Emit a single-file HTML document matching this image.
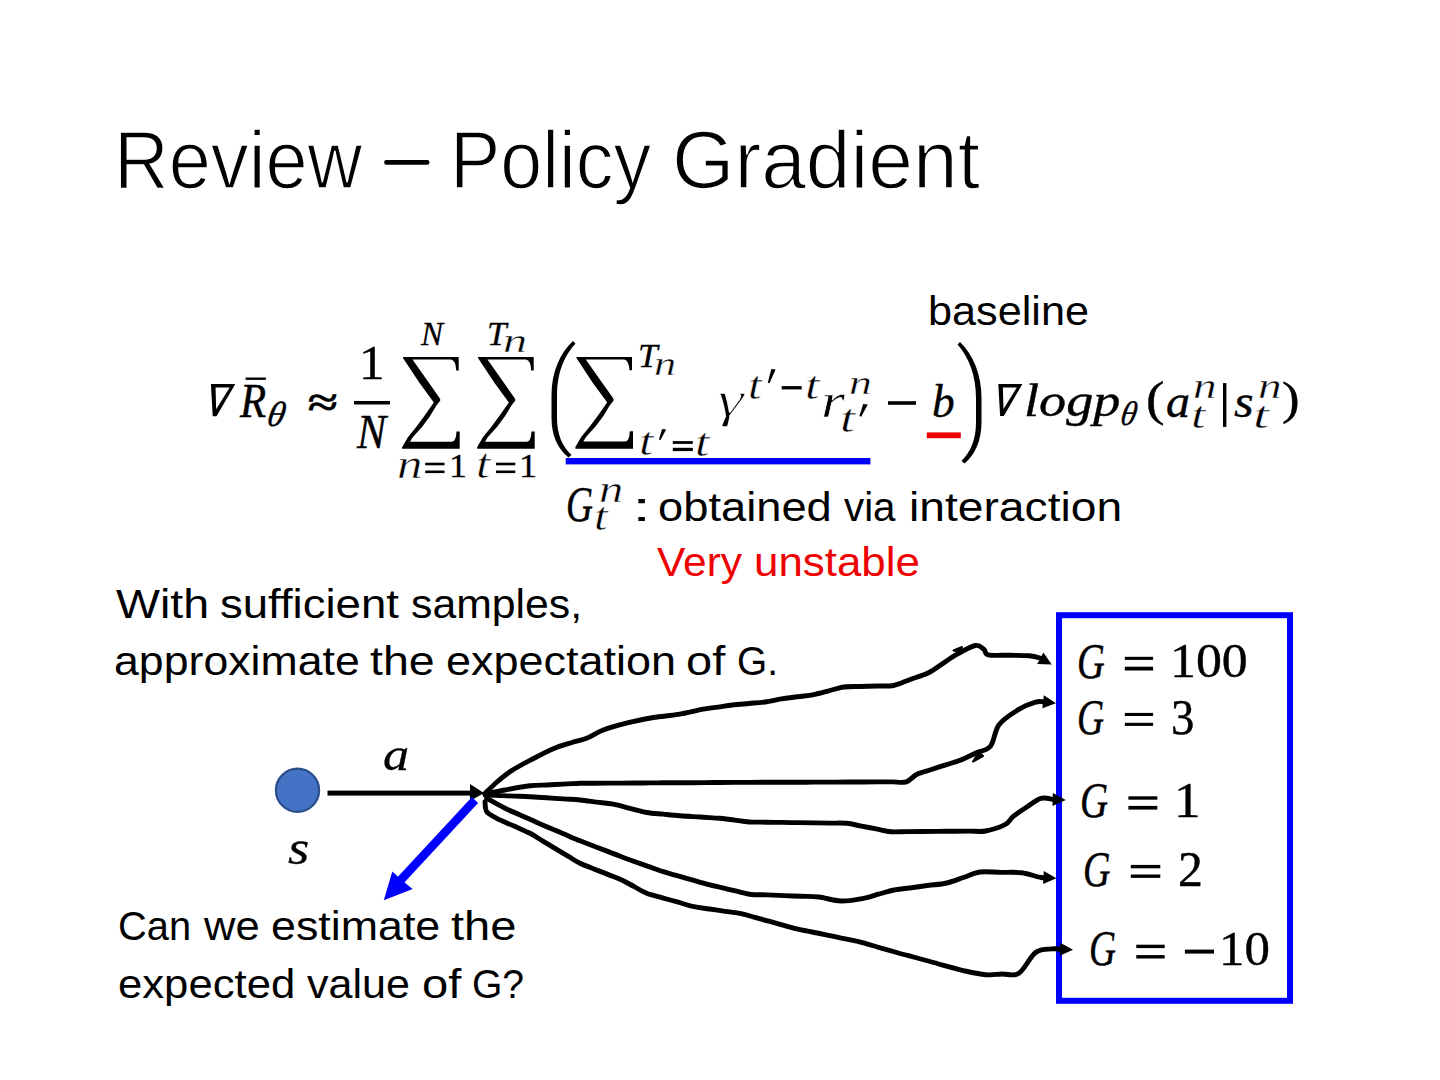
<!DOCTYPE html>
<html><head><meta charset="utf-8"><style>
html,body{margin:0;padding:0;background:#fff;width:1440px;height:1080px;overflow:hidden}
.e{position:absolute;white-space:nowrap;line-height:1;transform-origin:0 0}
svg{position:absolute;left:0;top:0}
</style></head><body>
<svg width="1440" height="1080" viewBox="0 0 1440 1080">
<rect x="1059" y="615.2" width="231" height="385.6" fill="none" stroke="#0000FF" stroke-width="6"/>
<path d="M485.0,793.5 C487.0,791.6 492.6,785.8 497.0,782.0 C501.4,778.2 506.1,774.2 511.7,770.6 C517.3,767.0 523.5,763.8 530.4,760.2 C537.3,756.6 546.4,751.7 553.3,748.8 C560.2,745.8 566.4,744.2 572.0,742.5 C577.6,740.8 581.5,740.4 586.7,738.3 C591.9,736.2 596.4,732.6 603.3,730.0 C610.2,727.4 620.0,724.8 628.3,722.7 C636.6,720.6 645.0,718.9 653.3,717.5 C661.6,716.1 670.0,715.8 678.3,714.4 C686.6,713.0 696.7,710.4 703.3,709.2 C709.9,708.0 713.0,707.8 717.9,707.1 C722.8,706.4 727.4,705.6 732.5,705.0 C737.6,704.4 743.3,704.0 748.8,703.5 C754.2,703.0 759.5,702.8 765.0,702.0 C770.5,701.2 776.1,699.8 781.5,698.9 C786.9,698.0 792.3,697.5 797.6,696.8 C803.0,696.0 808.6,695.6 813.8,694.6 C819.0,693.6 823.9,692.1 828.9,690.8 C833.9,689.5 838.7,687.7 844.0,687.0 C849.3,686.3 855.0,686.7 860.5,686.5 C866.0,686.3 871.5,686.2 877.0,686.0 C882.5,685.8 887.9,686.6 893.5,685.5 C899.1,684.4 905.0,681.3 910.8,679.2 C916.5,677.2 922.6,675.6 928.0,673.0 C933.4,670.4 938.0,666.6 943.0,663.4 C948.0,660.1 952.6,656.7 958.0,653.7 C963.4,650.7 971.0,646.2 975.3,645.5 C979.6,644.8 981.9,647.9 984.0,649.4 C986.1,650.9 984.1,653.8 988.2,654.8 C992.3,655.8 1001.8,655.1 1008.6,655.3 C1015.4,655.5 1023.8,655.3 1029.0,655.8 C1034.2,656.2 1037.4,657.2 1040.0,658.0 C1042.6,658.8 1043.9,660.1 1044.7,660.6" fill="none" stroke="#000" stroke-width="4.9" stroke-linecap="round" stroke-linejoin="round"/>
<polygon points="1051.7,664.4 1037.2,663.9 1043.4,652.5" fill="#000"/>
<path d="M485.0,794.2 C488.3,793.5 497.5,791.4 505.0,790.0 C512.5,788.6 523.1,786.6 530.0,785.8 C536.9,785.0 541.1,785.2 546.7,785.0 C552.2,784.7 557.8,784.4 563.3,784.1 C568.9,783.9 574.9,783.5 580.0,783.3 C585.1,783.1 589.3,783.2 594.0,783.2 C598.7,783.2 603.3,783.2 608.0,783.1 C612.7,783.1 617.3,783.1 622.0,783.1 C626.7,783.0 631.3,783.0 636.0,783.0 C640.7,783.0 645.3,782.9 650.0,782.9 C654.7,782.9 659.3,782.8 664.0,782.8 C668.7,782.8 673.3,782.8 678.0,782.7 C682.7,782.7 687.3,782.7 692.0,782.7 C696.7,782.6 701.3,782.6 706.0,782.6 C710.7,782.6 715.3,782.5 720.0,782.5 C724.7,782.5 729.6,782.5 734.3,782.4 C739.1,782.4 743.9,782.4 748.7,782.4 C753.5,782.4 758.2,782.4 763.0,782.3 C767.8,782.3 772.6,782.3 777.4,782.3 C782.1,782.3 786.9,782.2 791.7,782.2 C796.5,782.2 801.3,782.2 806.0,782.2 C810.8,782.2 815.6,782.1 820.4,782.1 C825.1,782.1 829.9,782.1 834.7,782.1 C839.5,782.1 844.3,782.0 849.0,782.0 C853.8,782.0 858.6,782.0 863.4,782.0 C868.2,781.9 872.9,781.9 877.7,781.9 C882.5,781.9 887.3,781.9 892.1,781.9 C896.8,781.8 902.2,783.1 906.4,781.8 C910.6,780.5 912.8,776.2 917.0,774.2 C921.2,772.2 926.6,771.1 931.4,769.5 C936.2,768.0 941.0,766.4 945.8,764.9 C950.6,763.3 955.3,762.1 960.2,760.2 C965.1,758.3 970.3,755.6 975.3,753.2 C980.3,750.9 986.4,751.0 990.4,746.2 C994.4,741.5 994.4,730.8 999.0,724.7 C1003.6,718.6 1012.2,713.5 1018.3,709.7 C1024.4,705.9 1030.9,703.4 1035.6,702.1 C1040.3,700.8 1044.2,702.1 1046.3,702.1 C1048.4,702.1 1047.8,702.3 1048.1,702.3" fill="none" stroke="#000" stroke-width="4.9" stroke-linecap="round" stroke-linejoin="round"/>
<polygon points="1056.0,703.2 1042.4,708.2 1043.8,695.3" fill="#000"/>
<path d="M485.0,795.0 C487.5,795.1 495.0,795.4 500.0,795.6 C505.0,795.8 510.0,795.9 515.0,796.1 C520.0,796.3 524.7,796.4 530.0,796.7 C535.3,797.0 541.1,797.4 546.7,797.8 C552.2,798.2 557.8,798.5 563.3,798.9 C568.9,799.3 574.4,799.5 580.0,800.0 C585.6,800.5 591.1,801.4 596.6,802.1 C602.2,802.8 607.7,803.2 613.3,804.2 C618.9,805.2 624.4,807.0 630.0,808.4 C635.6,809.7 641.1,811.5 646.7,812.5 C652.3,813.5 657.8,813.6 663.4,814.1 C668.9,814.7 673.9,815.3 680.0,815.8 C686.1,816.3 693.3,816.6 700.0,817.0 C706.7,817.5 714.2,817.8 720.0,818.3 C725.8,818.8 729.8,819.5 734.7,820.1 C739.6,820.8 744.2,821.7 749.4,822.0 C754.6,822.3 760.2,822.1 765.6,822.2 C771.0,822.3 776.4,822.4 781.8,822.4 C787.2,822.5 792.6,822.6 798.0,822.6 C803.5,822.7 808.9,822.8 814.3,822.9 C819.7,822.9 825.1,823.0 830.5,823.1 C835.9,823.2 841.5,822.8 846.7,823.3 C851.9,823.8 856.5,825.2 861.5,826.1 C866.4,827.0 871.3,828.0 876.2,828.9 C881.2,829.8 885.9,831.3 891.0,831.7 C896.1,832.1 901.5,831.6 906.8,831.6 C912.0,831.5 917.3,831.5 922.5,831.5 C927.8,831.4 933.0,831.4 938.3,831.4 C943.6,831.3 948.8,831.3 954.1,831.2 C959.3,831.2 964.6,831.2 969.8,831.1 C975.1,831.1 979.7,832.1 985.6,831.0 C991.5,829.9 1000.4,827.1 1005.0,824.7 C1009.6,822.3 1009.6,819.4 1013.3,816.4 C1017.0,813.4 1022.6,809.7 1027.2,806.7 C1031.8,803.7 1036.4,799.5 1041.0,798.3 C1045.6,797.1 1052.2,799.5 1055.0,799.7 C1057.8,799.9 1057.3,799.8 1057.7,799.8" fill="none" stroke="#000" stroke-width="4.9" stroke-linecap="round" stroke-linejoin="round"/>
<polygon points="1065.7,800.0 1052.5,806.1 1052.9,793.1" fill="#000"/>
<path d="M486.7,798.3 C489.8,800.0 499.6,805.6 505.0,808.3 C510.4,811.0 514.3,812.4 518.9,814.4 C523.5,816.5 528.2,818.5 532.8,820.6 C537.4,822.6 541.6,824.5 546.7,826.7 C551.8,828.9 557.8,831.4 563.4,833.8 C568.9,836.1 574.4,838.6 580.0,840.8 C585.6,843.0 591.1,845.1 596.7,847.2 C602.2,849.3 607.8,851.5 613.3,853.6 C618.9,855.7 624.4,858.0 630.0,860.0 C635.6,862.0 641.1,863.9 646.6,865.9 C652.2,867.8 658.1,870.0 663.3,871.7 C668.5,873.4 673.2,874.5 678.1,875.9 C683.1,877.3 688.0,878.8 693.0,880.2 C697.9,881.6 703.0,883.1 707.8,884.4 C712.6,885.6 717.0,886.6 721.7,887.7 C726.3,888.8 730.9,889.8 735.5,890.9 C740.2,892.0 744.2,893.5 749.4,894.2 C754.6,894.9 761.0,894.7 766.8,894.9 C772.6,895.1 778.4,895.4 784.1,895.6 C789.9,895.8 795.7,896.1 801.5,896.3 C807.3,896.5 812.3,896.2 818.9,897.0 C825.5,897.8 833.6,900.8 841.0,901.0 C848.4,901.2 857.0,899.4 863.3,898.3 C869.6,897.2 873.5,895.5 878.6,894.1 C883.7,892.8 888.4,891.1 893.9,890.0 C899.4,888.9 905.6,888.4 911.5,887.7 C917.4,886.9 923.2,886.1 929.1,885.3 C935.0,884.6 941.0,884.3 946.7,883.0 C952.4,881.7 957.8,879.3 963.4,877.5 C968.9,875.7 973.8,872.9 980.0,872.0 C986.2,871.1 993.9,872.3 1000.9,872.4 C1007.8,872.5 1015.0,871.9 1021.7,872.8 C1028.4,873.6 1036.5,876.7 1041.0,877.5 C1045.5,878.3 1047.2,877.8 1048.4,877.9" fill="none" stroke="#000" stroke-width="4.9" stroke-linecap="round" stroke-linejoin="round"/>
<polygon points="1056.4,878.3 1043.1,884.1 1043.8,871.1" fill="#000"/>
<path d="M485.0,801.7 C485.3,803.4 484.8,808.9 486.7,811.7 C488.6,814.5 492.3,815.9 496.7,818.3 C501.1,820.6 507.8,823.3 513.4,825.8 C518.9,828.3 525.1,830.8 530.0,833.3 C534.9,835.8 538.3,838.3 542.5,840.8 C546.7,843.3 550.8,845.8 555.0,848.3 C559.2,850.8 563.3,853.3 567.5,855.8 C571.7,858.3 575.6,861.1 580.0,863.3 C584.4,865.5 589.3,867.0 593.9,868.9 C598.5,870.7 603.2,872.6 607.8,874.4 C612.4,876.3 617.3,878.0 621.7,880.0 C626.1,882.0 630.0,884.4 634.2,886.6 C638.4,888.9 642.0,891.4 646.7,893.3 C651.4,895.2 657.2,896.3 662.4,897.8 C667.7,899.3 672.9,900.7 678.2,902.2 C683.4,903.7 688.7,905.6 693.9,906.7 C699.1,907.8 704.4,908.2 709.6,909.0 C714.8,909.8 720.1,910.5 725.3,911.3 C730.5,912.1 736.1,912.6 741.0,913.6 C745.9,914.6 750.3,916.1 754.9,917.4 C759.6,918.7 764.2,920.0 768.9,921.2 C773.5,922.5 778.1,923.8 782.8,925.1 C787.4,926.4 791.8,927.7 796.7,928.9 C801.6,930.1 806.9,931.0 812.0,932.0 C817.1,933.1 822.2,934.1 827.2,935.1 C832.3,936.2 837.4,937.2 842.5,938.3 C847.6,939.3 852.0,940.0 857.8,941.4 C863.6,942.8 870.8,945.1 877.2,947.0 C883.7,948.8 890.7,950.8 896.7,952.5 C902.7,954.2 907.8,955.5 913.4,957.0 C918.9,958.5 924.5,960.0 930.0,961.5 C935.5,963.1 941.1,964.6 946.6,966.1 C952.2,967.6 956.8,969.2 963.3,970.6 C969.8,972.0 979.1,974.1 985.6,974.7 C992.1,975.3 996.7,974.2 1002.2,974.0 C1007.8,973.8 1013.3,976.9 1018.9,973.3 C1024.5,969.7 1030.0,956.6 1035.6,952.5 C1041.1,948.4 1047.3,949.4 1052.2,948.9 C1057.1,948.4 1062.9,949.3 1065.0,949.4" fill="none" stroke="#000" stroke-width="4.9" stroke-linecap="round" stroke-linejoin="round"/>
<polygon points="1073.0,949.7 1059.8,955.7 1060.3,942.7" fill="#000"/>
<path d="M953.5,650.5 L962,647 L960,651.5 Z" fill="#000" stroke="#000" stroke-width="2" stroke-linejoin="round"/>
<path d="M973,761.5 L979,752 L983,756 Z" fill="#000" stroke="#000" stroke-width="2" stroke-linejoin="round"/>
<rect x="384.2" y="160" width="45.2" height="4.8" rx="2" fill="#000"/>
<circle cx="297.5" cy="790.2" r="21.6" fill="#4472C4" stroke="#2B4E8C" stroke-width="2.2"/>
<rect x="327.50" y="790.60" width="146.50" height="5.00" fill="#000"/>
<polygon points="470,784 484,793 470,801" fill="#000"/>
<line x1="475" y1="800" x2="398" y2="883" stroke="#0000FF" stroke-width="8.5"/>
<polygon points="383.8,900.3 392.3,871.5 399.5,878 407.3,884.7 412.7,888.9" fill="#0000FF"/>
<rect x="565.70" y="458.00" width="304.70" height="6.40" fill="#0000FF"/>
<rect x="926.80" y="432.40" width="34.00" height="5.80" fill="#EE0000"/>
<rect x="354.00" y="401.00" width="36.00" height="3.50" fill="#000"/>
<rect x="245.60" y="377.50" width="20.30" height="2.40" fill="#000"/>
<rect x="888.00" y="401.20" width="28.00" height="3.60" fill="#000"/>
<rect x="781.70" y="386.10" width="20.00" height="3.30" fill="#000"/>
<rect x="425.20" y="462.70" width="19.30" height="2.60" fill="#000"/>
<rect x="425.20" y="470.50" width="19.30" height="2.60" fill="#000"/>
<rect x="496.00" y="462.70" width="19.30" height="2.60" fill="#000"/>
<rect x="496.00" y="470.50" width="19.30" height="2.60" fill="#000"/>
<rect x="672.80" y="441.10" width="20.00" height="2.80" fill="#000"/>
<rect x="672.80" y="447.80" width="20.00" height="3.30" fill="#000"/>
<rect x="1124.80" y="656.80" width="28.30" height="3.10" fill="#000"/>
<rect x="1124.80" y="666.70" width="28.30" height="3.80" fill="#000"/>
<rect x="1124.80" y="712.90" width="28.30" height="3.10" fill="#000"/>
<rect x="1124.80" y="722.80" width="28.30" height="3.10" fill="#000"/>
<rect x="1128.40" y="796.30" width="28.90" height="3.40" fill="#000"/>
<rect x="1128.40" y="805.90" width="28.90" height="3.70" fill="#000"/>
<rect x="1130.80" y="864.90" width="29.50" height="3.40" fill="#000"/>
<rect x="1130.80" y="874.50" width="29.50" height="3.40" fill="#000"/>
<rect x="1136.25" y="944.70" width="28.45" height="3.40" fill="#000"/>
<rect x="1136.25" y="955.10" width="28.45" height="3.40" fill="#000"/>
<rect x="1184.90" y="949.60" width="29.10" height="4.00" fill="#000"/>
<rect x="1223.00" y="383.10" width="3.40" height="43.80" fill="#000"/>
<polygon points="662.1,428.9 666.1,429.4 660.5,440.0 658.9,439.4" fill="#000"/>
<polygon points="771.3,368.9 775.6,369.4 769.5,383.3 767.8,382.7" fill="#000"/>
<polygon points="863.2,403.9 867.8,404.4 861.2,416.7 859.4,416.1" fill="#000"/>
<path d="M210.90,384.10 L235.30,384.10 L216.51,416.25 L212.73,416.25 Z M215.54,387.54 L216.15,409.18 L229.69,387.54 Z" fill="#000" fill-rule="evenodd"/>
<path d="M998.30,384.00 L1022.40,384.00 L1003.84,416.00 L1000.11,416.00 Z M1002.88,387.42 L1003.48,408.96 L1016.86,387.42 Z" fill="#000" fill-rule="evenodd"/>
<path d="M403.00,357.10 L458.70,357.10 L458.70,370.40 L456.20,370.40 Q455.60,360.20 451.00,359.60 L412.50,359.60 L430.10,384.60 L439.20,397.40 Q441.20,399.80 439.60,401.60 L436.40,405.55 L430.10,416.10 L422.20,426.70 L412.70,437.20 L410.00,441.70 L452.00,441.70 Q456.00,441.20 456.50,431.40 L459.70,431.40 L459.70,448.80 L402.10,448.80 L402.10,447.20 L407.90,437.20 L416.40,426.70 L424.30,416.10 L431.70,405.55 L433.80,402.40 L419.40,382.80 L403.00,357.90 Z" fill="#000"/>
<path d="M478.00,357.10 L533.70,357.10 L533.70,370.40 L531.20,370.40 Q530.60,360.20 526.00,359.60 L487.50,359.60 L505.10,384.60 L514.20,397.40 Q516.20,399.80 514.60,401.60 L511.40,405.55 L505.10,416.10 L497.20,426.70 L487.70,437.20 L485.00,441.70 L527.00,441.70 Q531.00,441.20 531.50,431.40 L534.70,431.40 L534.70,448.80 L477.10,448.80 L477.10,447.20 L482.90,437.20 L491.40,426.70 L499.30,416.10 L506.70,405.55 L508.80,402.40 L494.40,382.80 L478.00,357.90 Z" fill="#000"/>
<path d="M576.30,357.00 L632.00,357.00 L632.00,370.30 L629.50,370.30 Q628.90,360.10 624.30,359.50 L585.80,359.50 L603.40,384.50 L612.50,397.30 Q614.50,399.70 612.90,401.50 L609.70,405.45 L603.40,416.00 L595.50,426.60 L586.00,437.10 L583.30,441.60 L625.30,441.60 Q629.30,441.10 629.80,431.30 L633.00,431.30 L633.00,448.70 L575.40,448.70 L575.40,447.10 L581.20,437.10 L589.70,426.60 L597.60,416.00 L605.00,405.45 L607.10,402.30 L592.70,382.70 L576.30,357.80 Z" fill="#000"/>
<path d="M573.00,341.00 C560.00,353.00 551.50,372.00 551.50,395.00 L551.50,418.00 C551.50,436.00 558.00,449.00 568.50,457.50 L571.50,455.00 C562.00,446.00 557.00,434.00 557.00,418.00 L557.00,395.00 C557.00,373.00 564.00,356.00 575.50,343.50 Z" fill="#000"/>
<path d="M960.00,342.00 C973.00,354.52 981.50,374.33 981.50,398.32 L981.50,422.30 C981.50,441.08 975.00,454.64 964.50,463.50 L961.50,460.89 C971.00,451.51 976.00,438.99 976.00,422.30 L976.00,398.32 C976.00,375.37 969.00,357.64 957.50,344.61 Z" fill="#000"/>
</svg>
<div class="e" style="left:114.17px;top:119.55px;transform:scale(0.9465,1.0098);font-family:'Liberation Sans', sans-serif;font-size:80px;font-style:normal;color:#000;-webkit-text-stroke:1.5px #fff">Review</div>
<div class="e" style="left:449.90px;top:119.55px;transform:scale(0.9424,1.0098);font-family:'Liberation Sans', sans-serif;font-size:80px;font-style:normal;color:#000;-webkit-text-stroke:1.5px #fff">Policy</div>
<div class="e" style="left:671.68px;top:119.55px;transform:scale(1.0037,1.0098);font-family:'Liberation Sans', sans-serif;font-size:80px;font-style:normal;color:#000;-webkit-text-stroke:1.5px #fff">Gradient</div>
<div class="e" style="left:928.30px;top:289.87px;transform:scale(0.9827,0.9333);font-family:'Liberation Sans', sans-serif;font-size:44px;font-style:normal;color:#000">baseline</div>
<div class="e" style="left:631.80px;top:485.77px;transform:scale(1.5750,0.9333);font-family:'Liberation Sans', sans-serif;font-size:44px;font-style:normal;color:#000">:</div>
<div class="e" style="left:657.74px;top:485.77px;transform:scale(1.0293,0.9333);font-family:'Liberation Sans', sans-serif;font-size:44px;font-style:normal;color:#000">obtained</div>
<div class="e" style="left:844.00px;top:485.77px;transform:scale(0.9161,0.9333);font-family:'Liberation Sans', sans-serif;font-size:44px;font-style:normal;color:#000">via</div>
<div class="e" style="left:909.25px;top:485.77px;transform:scale(1.0497,0.9333);font-family:'Liberation Sans', sans-serif;font-size:44px;font-style:normal;color:#000">interaction</div>
<div class="e" style="left:657.00px;top:540.67px;transform:scale(0.9659,0.9333);font-family:'Liberation Sans', sans-serif;font-size:44px;font-style:normal;color:#EE0000">Very</div>
<div class="e" style="left:754.31px;top:540.67px;transform:scale(0.9966,0.9333);font-family:'Liberation Sans', sans-serif;font-size:44px;font-style:normal;color:#EE0000">unstable</div>
<div class="e" style="left:116.30px;top:582.97px;transform:scale(1.0576,0.9333);font-family:'Liberation Sans', sans-serif;font-size:44px;font-style:normal;color:#000">With</div>
<div class="e" style="left:220.46px;top:582.97px;transform:scale(1.0351,0.9333);font-family:'Liberation Sans', sans-serif;font-size:44px;font-style:normal;color:#000">sufficient</div>
<div class="e" style="left:411.03px;top:582.97px;transform:scale(0.9719,0.9333);font-family:'Liberation Sans', sans-serif;font-size:44px;font-style:normal;color:#000">samples,</div>
<div class="e" style="left:114.27px;top:640.27px;transform:scale(1.0151,0.9333);font-family:'Liberation Sans', sans-serif;font-size:44px;font-style:normal;color:#000">approximate</div>
<div class="e" style="left:370.34px;top:640.27px;transform:scale(1.0586,0.9333);font-family:'Liberation Sans', sans-serif;font-size:44px;font-style:normal;color:#000">the</div>
<div class="e" style="left:445.96px;top:640.27px;transform:scale(1.0223,0.9333);font-family:'Liberation Sans', sans-serif;font-size:44px;font-style:normal;color:#000">expectation</div>
<div class="e" style="left:686.26px;top:640.27px;transform:scale(1.0686,0.9333);font-family:'Liberation Sans', sans-serif;font-size:44px;font-style:normal;color:#000">of</div>
<div class="e" style="left:737.03px;top:640.27px;transform:scale(0.8829,0.9333);font-family:'Liberation Sans', sans-serif;font-size:44px;font-style:normal;color:#000">G.</div>
<div class="e" style="left:118.09px;top:905.47px;transform:scale(0.9053,0.9333);font-family:'Liberation Sans', sans-serif;font-size:44px;font-style:normal;color:#000">Can</div>
<div class="e" style="left:204.00px;top:905.47px;transform:scale(0.9889,0.9333);font-family:'Liberation Sans', sans-serif;font-size:44px;font-style:normal;color:#000">we</div>
<div class="e" style="left:270.66px;top:905.47px;transform:scale(1.0179,0.9333);font-family:'Liberation Sans', sans-serif;font-size:44px;font-style:normal;color:#000">estimate</div>
<div class="e" style="left:450.93px;top:905.47px;transform:scale(1.0690,0.9333);font-family:'Liberation Sans', sans-serif;font-size:44px;font-style:normal;color:#000">the</div>
<div class="e" style="left:117.91px;top:962.87px;transform:scale(0.9925,0.9333);font-family:'Liberation Sans', sans-serif;font-size:44px;font-style:normal;color:#000">expected</div>
<div class="e" style="left:307.00px;top:962.87px;transform:scale(0.9786,0.9333);font-family:'Liberation Sans', sans-serif;font-size:44px;font-style:normal;color:#000">value</div>
<div class="e" style="left:421.66px;top:962.87px;transform:scale(1.0714,0.9333);font-family:'Liberation Sans', sans-serif;font-size:44px;font-style:normal;color:#000">of</div>
<div class="e" style="left:472.43px;top:962.87px;transform:scale(0.8873,0.9333);font-family:'Liberation Sans', sans-serif;font-size:44px;font-style:normal;color:#000">G?</div>
<div class="e" style="left:239.60px;top:375.70px;transform:scale(1.0708,1.2288);font-family:'Liberation Serif', serif;font-size:40px;font-style:italic;color:#000;-webkit-text-stroke:0.35px currentColor">R</div>
<div class="e" style="left:271.46px;top:396.62px;transform:scale(0.9025,0.8759) skewX(-10deg);font-family:'Liberation Serif', serif;font-size:40px;font-style:italic;color:#000;-webkit-text-stroke:0.35px currentColor">θ</div>
<div class="e" style="left:308.34px;top:382.18px;transform:scale(1.3550,1.0437);font-family:'Liberation Serif', serif;font-size:40px;font-style:normal;color:#000;-webkit-text-stroke:1.0px currentColor">≈</div>
<div class="e" style="left:359.46px;top:339.02px;transform:scale(1.2800,1.2115);font-family:'Liberation Serif', serif;font-size:40px;font-style:normal;color:#000;-webkit-text-stroke:0.35px currentColor">1</div>
<div class="e" style="left:356.70px;top:408.19px;transform:scale(1.0897,1.2154);font-family:'Liberation Serif', serif;font-size:40px;font-style:italic;color:#000;-webkit-text-stroke:0.35px currentColor">N</div>
<div class="e" style="left:420.50px;top:316.77px;transform:scale(0.8276,0.8615);font-family:'Liberation Serif', serif;font-size:40px;font-style:italic;color:#000;-webkit-text-stroke:0.35px currentColor">N</div>
<div class="e" style="left:397.16px;top:445.82px;transform:scale(1.2688,0.9842);font-family:'Liberation Serif', serif;font-size:40px;font-style:italic;color:#000;-webkit-text-stroke:0.5px #fff">n</div>
<div class="e" style="left:448.54px;top:449.37px;transform:scale(0.9033,0.8615);font-family:'Liberation Serif', serif;font-size:40px;font-style:normal;color:#000;-webkit-text-stroke:0.35px currentColor">1</div>
<div class="e" style="left:486.68px;top:316.77px;transform:scale(0.8727,0.8615);font-family:'Liberation Serif', serif;font-size:40px;font-style:italic;color:#000;-webkit-text-stroke:0.35px currentColor">T</div>
<div class="e" style="left:502.99px;top:325.41px;transform:scale(1.2063,0.8211);font-family:'Liberation Serif', serif;font-size:40px;font-style:italic;color:#000;-webkit-text-stroke:0.5px #fff">n</div>
<div class="e" style="left:476.37px;top:443.95px;transform:scale(1.2667,1.0409);font-family:'Liberation Serif', serif;font-size:40px;font-style:italic;color:#000;-webkit-text-stroke:0.5px #fff">t</div>
<div class="e" style="left:519.28px;top:449.37px;transform:scale(0.9067,0.8615);font-family:'Liberation Serif', serif;font-size:40px;font-style:normal;color:#000;-webkit-text-stroke:0.35px currentColor">1</div>
<div class="e" style="left:637.95px;top:339.02px;transform:scale(0.8818,0.8538);font-family:'Liberation Serif', serif;font-size:40px;font-style:italic;color:#000;-webkit-text-stroke:0.35px currentColor">T</div>
<div class="e" style="left:654.49px;top:347.46px;transform:scale(1.1062,0.8526);font-family:'Liberation Serif', serif;font-size:40px;font-style:italic;color:#000;-webkit-text-stroke:0.5px #fff">n</div>
<div class="e" style="left:639.12px;top:422.15px;transform:scale(1.2889,1.0136);font-family:'Liberation Serif', serif;font-size:40px;font-style:italic;color:#000;-webkit-text-stroke:0.5px #fff">t</div>
<div class="e" style="left:695.22px;top:423.05px;transform:scale(1.2889,0.9864);font-family:'Liberation Serif', serif;font-size:40px;font-style:italic;color:#000;-webkit-text-stroke:0.5px #fff">t</div>
<div class="e" style="left:717.20px;top:374.03px;transform:scale(1.7000,1.2846);font-family:'Liberation Serif', serif;font-size:40px;font-style:italic;color:#000;-webkit-text-stroke:1.0px #fff">γ</div>
<div class="e" style="left:748.13px;top:367.00px;transform:scale(1.2333,0.9818);font-family:'Liberation Serif', serif;font-size:40px;font-style:italic;color:#000;-webkit-text-stroke:0.5px #fff">t</div>
<div class="e" style="left:804.60px;top:367.00px;transform:scale(1.3000,0.9818);font-family:'Liberation Serif', serif;font-size:40px;font-style:italic;color:#000;-webkit-text-stroke:0.5px #fff">t</div>
<div class="e" style="left:821.32px;top:376.50px;transform:scale(1.5385,1.2000);font-family:'Liberation Serif', serif;font-size:40px;font-style:italic;color:#000;-webkit-text-stroke:0.5px #fff">r</div>
<div class="e" style="left:848.81px;top:366.44px;transform:scale(1.1437,0.8474);font-family:'Liberation Serif', serif;font-size:40px;font-style:italic;color:#000;-webkit-text-stroke:0.5px #fff">n</div>
<div class="e" style="left:840.09px;top:398.90px;transform:scale(1.3556,1.0091);font-family:'Liberation Serif', serif;font-size:40px;font-style:italic;color:#000;-webkit-text-stroke:0.5px #fff">t</div>
<div class="e" style="left:932.47px;top:379.19px;transform:scale(1.1333,1.1397);font-family:'Liberation Serif', serif;font-size:40px;font-style:italic;color:#000;-webkit-text-stroke:0.35px currentColor">b</div>
<div class="e" style="left:1023.59px;top:377.25px;transform:scale(1.3544,1.1703);font-family:'Liberation Serif', serif;font-size:40px;font-style:italic;color:#000;-webkit-text-stroke:0.35px currentColor">logp</div>
<div class="e" style="left:1124.44px;top:397.32px;transform:scale(0.8150,0.8552) skewX(-10deg);font-family:'Liberation Serif', serif;font-size:40px;font-style:italic;color:#000;-webkit-text-stroke:0.35px currentColor">θ</div>
<div class="e" style="left:1146.12px;top:375.00px;transform:scale(1.3900,1.2194);font-family:'Liberation Serif', serif;font-size:40px;font-style:normal;color:#000;-webkit-text-stroke:0.35px currentColor">(</div>
<div class="e" style="left:1165.50px;top:378.09px;transform:scale(1.2000,1.1700);font-family:'Liberation Serif', serif;font-size:40px;font-style:italic;color:#000;-webkit-text-stroke:0.35px currentColor">a</div>
<div class="e" style="left:1192.64px;top:369.47px;transform:scale(1.1813,0.8737);font-family:'Liberation Serif', serif;font-size:40px;font-style:italic;color:#000;-webkit-text-stroke:0.5px #fff">n</div>
<div class="e" style="left:1191.30px;top:396.90px;transform:scale(1.3000,0.9364);font-family:'Liberation Serif', serif;font-size:40px;font-style:italic;color:#000;-webkit-text-stroke:0.5px #fff">t</div>
<div class="e" style="left:1233.90px;top:379.08px;transform:scale(1.2600,1.1400);font-family:'Liberation Serif', serif;font-size:40px;font-style:italic;color:#000;-webkit-text-stroke:0.35px currentColor">s</div>
<div class="e" style="left:1257.64px;top:369.47px;transform:scale(1.1813,0.8737);font-family:'Liberation Serif', serif;font-size:40px;font-style:italic;color:#000;-webkit-text-stroke:0.5px #fff">n</div>
<div class="e" style="left:1253.13px;top:396.90px;transform:scale(1.4333,0.9364);font-family:'Liberation Serif', serif;font-size:40px;font-style:italic;color:#000;-webkit-text-stroke:0.5px #fff">t</div>
<div class="e" style="left:1281.98px;top:375.17px;transform:scale(1.3182,1.1865);font-family:'Liberation Serif', serif;font-size:40px;font-style:normal;color:#000;-webkit-text-stroke:0.35px currentColor">)</div>
<div class="e" style="left:566.43px;top:478.15px;transform:scale(0.9346,1.2923);font-family:'Liberation Serif', serif;font-size:40px;font-style:italic;color:#000;-webkit-text-stroke:0.35px currentColor">G</div>
<div class="e" style="left:598.58px;top:471.36px;transform:scale(1.2125,0.9526);font-family:'Liberation Serif', serif;font-size:40px;font-style:italic;color:#000;-webkit-text-stroke:0.5px #fff">n</div>
<div class="e" style="left:594.33px;top:498.20px;transform:scale(1.2333,0.9818);font-family:'Liberation Serif', serif;font-size:40px;font-style:italic;color:#000;-webkit-text-stroke:0.5px #fff">t</div>
<div class="e" style="left:382.69px;top:731.56px;transform:scale(1.3056,1.1650);font-family:'Liberation Serif', serif;font-size:40px;font-style:italic;color:#000;-webkit-text-stroke:0.25px currentColor">a</div>
<div class="e" style="left:287.50px;top:824.40px;transform:scale(1.3714,1.2000);font-family:'Liberation Serif', serif;font-size:40px;font-style:italic;color:#000;-webkit-text-stroke:0.25px currentColor">s</div>
<div class="e" style="left:1076.68px;top:636.50px;transform:scale(0.9615,1.2423);font-family:'Liberation Serif', serif;font-size:40px;font-style:italic;color:#000;-webkit-text-stroke:0.35px currentColor">G</div>
<div class="e" style="left:1170.31px;top:636.69px;transform:scale(1.2964,1.2154);font-family:'Liberation Serif', serif;font-size:40px;font-style:normal;color:#000;-webkit-text-stroke:0.35px currentColor">100</div>
<div class="e" style="left:1076.72px;top:692.38px;transform:scale(0.9385,1.2673);font-family:'Liberation Serif', serif;font-size:40px;font-style:italic;color:#000;-webkit-text-stroke:0.35px currentColor">G</div>
<div class="e" style="left:1170.57px;top:692.38px;transform:scale(1.1647,1.2673);font-family:'Liberation Serif', serif;font-size:40px;font-style:normal;color:#000;-webkit-text-stroke:0.35px currentColor">3</div>
<div class="e" style="left:1080.05px;top:775.62px;transform:scale(0.9731,1.2538);font-family:'Liberation Serif', serif;font-size:40px;font-style:italic;color:#000;-webkit-text-stroke:0.35px currentColor">G</div>
<div class="e" style="left:1173.72px;top:775.62px;transform:scale(1.3267,1.2538);font-family:'Liberation Serif', serif;font-size:40px;font-style:normal;color:#000;-webkit-text-stroke:0.35px currentColor">1</div>
<div class="e" style="left:1083.10px;top:844.06px;transform:scale(0.9500,1.2769);font-family:'Liberation Serif', serif;font-size:40px;font-style:italic;color:#000;-webkit-text-stroke:0.35px currentColor">G</div>
<div class="e" style="left:1177.61px;top:844.06px;transform:scale(1.2438,1.2769);font-family:'Liberation Serif', serif;font-size:40px;font-style:normal;color:#000;-webkit-text-stroke:0.35px currentColor">2</div>
<div class="e" style="left:1088.53px;top:924.42px;transform:scale(0.9346,1.2538);font-family:'Liberation Serif', serif;font-size:40px;font-style:italic;color:#000;-webkit-text-stroke:0.35px currentColor">G</div>
<div class="e" style="left:1218.58px;top:924.61px;transform:scale(1.2722,1.2269);font-family:'Liberation Serif', serif;font-size:40px;font-style:normal;color:#000;-webkit-text-stroke:0.35px currentColor">10</div>
</body></html>
